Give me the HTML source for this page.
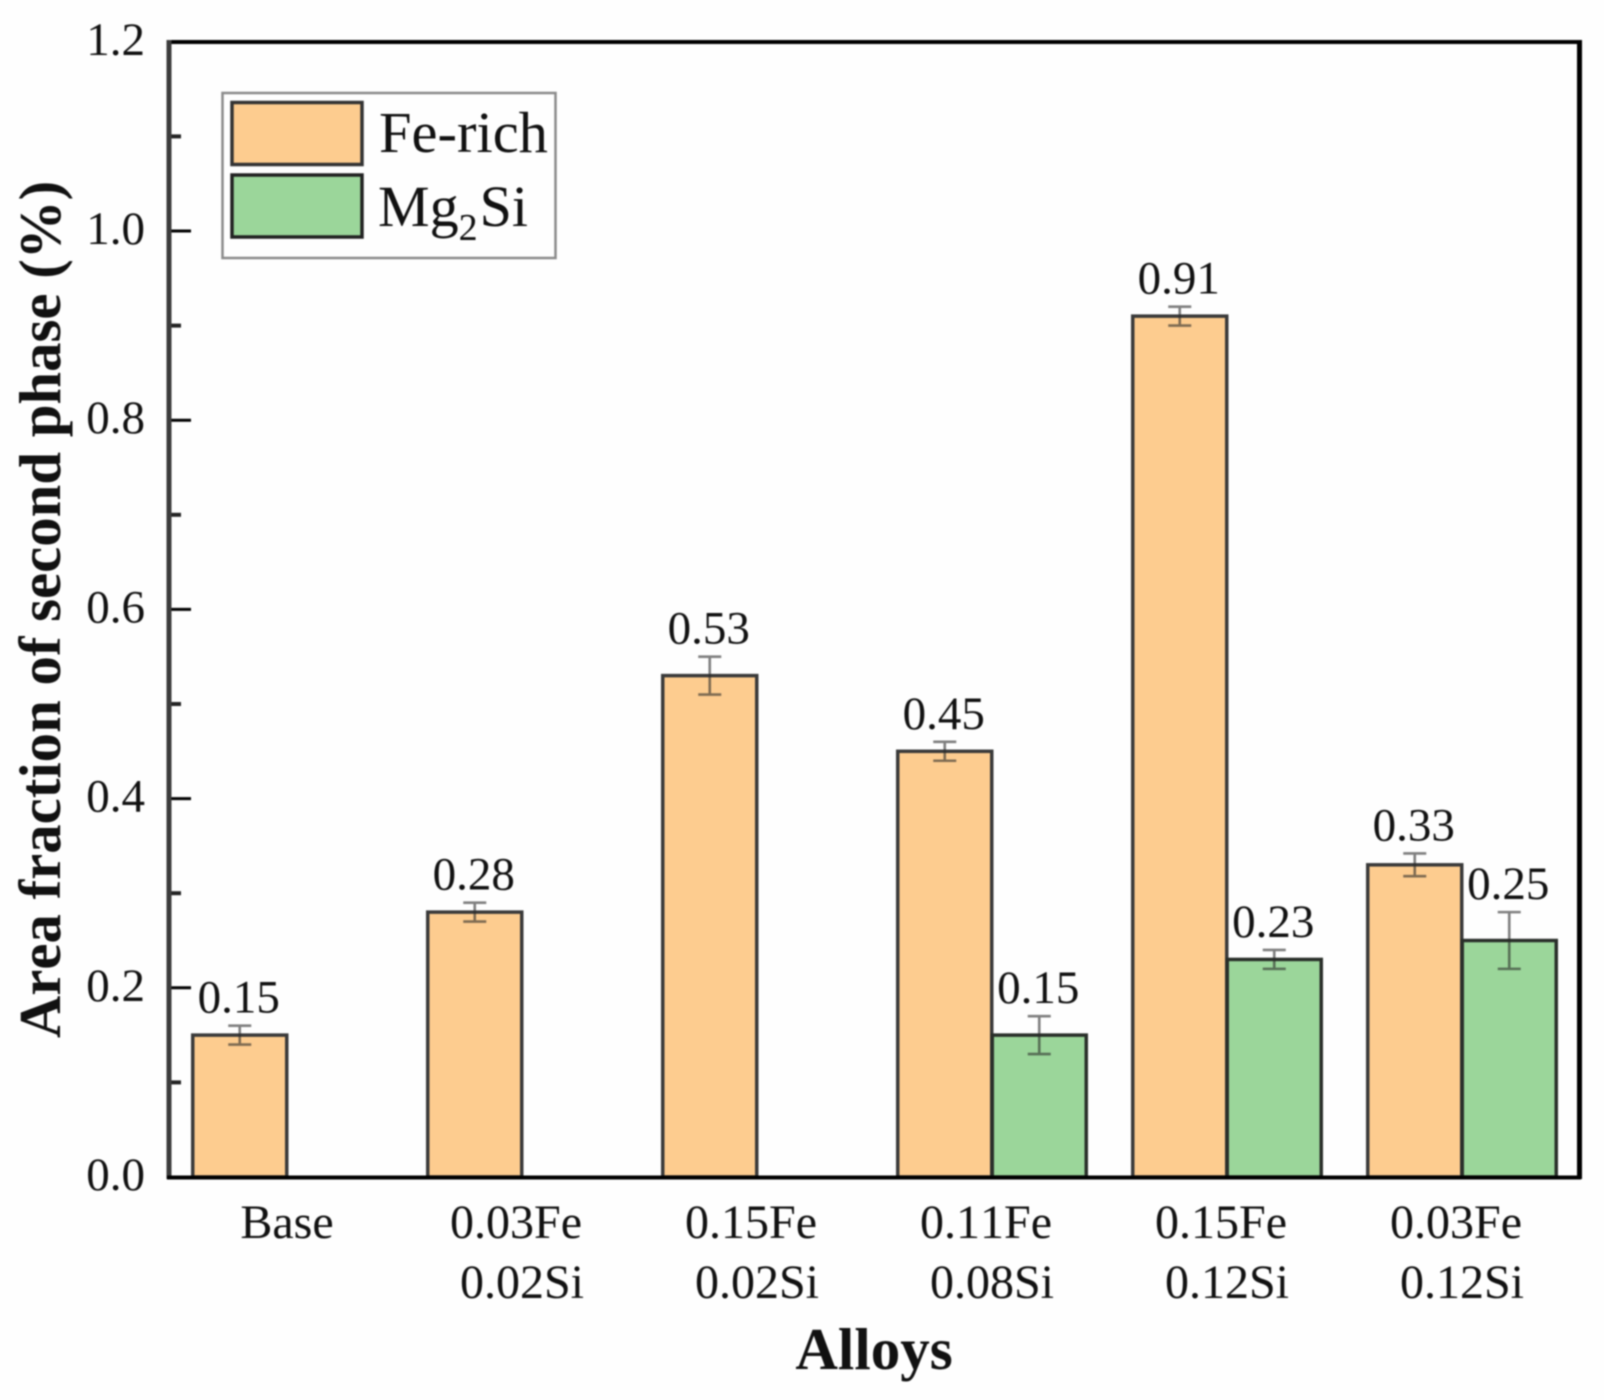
<!DOCTYPE html>
<html lang="en">
<head>
<meta charset="utf-8">
<title>Area fraction of second phase</title>
<style>
  html, body { margin: 0; padding: 0; background: #fefefe; }
  #chart { display: block; width: 1604px; height: 1400px; filter: blur(0.7px); }
  text { font-family: "Liberation Serif", serif; fill: #111; font-kerning: none; }
</style>
</head>
<body>
<svg id="chart" xmlns="http://www.w3.org/2000/svg" width="1604" height="1400" viewBox="0 0 1604 1400">
  <g id="bars"></g>
  <g id="errors"></g>
  <g id="values"></g>
  <g id="ticks"></g>
  <g id="frame">
    <line x1="167" y1="42" x2="1581" y2="42" stroke="#000" stroke-width="4"/>
    <line x1="1579.5" y1="40" x2="1579.5" y2="1179" stroke="#000" stroke-width="5"/>
    <line x1="169" y1="40" x2="169" y2="1179" stroke="#3c3c3c" stroke-width="5"/>
    <line x1="167" y1="1177.5" x2="1581" y2="1177.5" stroke="#000" stroke-width="4"/>
  </g>
  <g id="ylabels"></g>
  <g id="xlabels"></g>
  <text x="0" y="0" transform="translate(60,609.5) rotate(-90)" text-anchor="middle" font-size="58.8" font-weight="bold">Area fraction of second phase (%)</text>
  <text x="874" y="1369" text-anchor="middle" font-size="59" font-weight="bold">Alloys</text>
  <g>
    <rect x="222.5" y="93" width="333" height="165" fill="#fefefe" stroke="#8a8a8a" stroke-width="2.5"/>
    <rect x="232" y="102.5" width="130" height="62" fill="#fdcc8f" stroke="#333" stroke-width="3.5"/>
    <rect x="232" y="175" width="130" height="62" fill="#9bd69a" stroke="#222" stroke-width="3.5"/>
    <text x="379" y="152" font-size="58.5">Fe-rich</text>
    <text x="378" y="226" font-size="58">Mg<tspan font-size="38" dy="14">2</tspan><tspan dy="-14" dx="2">Si</tspan></text>
  </g>
</svg>
<script>
const categoriesLine1 = ["Base", "0.03Fe", "0.15Fe", "0.11Fe", "0.15Fe", "0.03Fe"];
const categoriesLine2 = ["", "0.02Si", "0.02Si", "0.08Si", "0.12Si", "0.12Si"];
const feRichValues = [0.15, 0.28, 0.53, 0.45, 0.91, 0.33];
const feRichErrors = [0.01, 0.01, 0.02, 0.01, 0.01, 0.012];
const mg2SiValues = [null, null, null, 0.15, 0.23, 0.25];
const mg2SiErrors = [null, null, null, 0.02, 0.01, 0.03];
const yMajorTicks = [0, 0.2, 0.4, 0.6, 0.8, 1.0, 1.2];
const yMinorTicks = [0.1, 0.3, 0.5, 0.7, 0.9, 1.1];

const NS = "http://www.w3.org/2000/svg";
const Y_ZERO = 1177, Y_PER_UNIT = 946;
const GROUP_START = 287, GROUP_STEP = 235, BAR_WIDTH = 94.5;
const AXIS_X = 169;

function yScale(v) { return Y_ZERO - v * Y_PER_UNIT; }
function groupCenter(i) { return GROUP_START + GROUP_STEP * i; }

function make(tag, attrs, parent, content) {
  const el = document.createElementNS(NS, tag);
  for (const k in attrs) el.setAttribute(k, attrs[k]);
  if (content !== undefined) el.textContent = content;
  document.getElementById(parent).appendChild(el);
  return el;
}

function drawSeries(values, errors, seriesName, fill, stroke, side) {
  values.forEach(function (v, i) {
    if (v === null) return;
    const left = side < 0 ? groupCenter(i) - BAR_WIDTH : groupCenter(i);
    const cx = left + BAR_WIDTH / 2;
    const top = yScale(v);

    const bar = make("rect", { x: left + 0.25, y: top, width: BAR_WIDTH - 0.5, height: Y_ZERO - top, fill: fill, stroke: stroke, "stroke-width": 3.5 }, "bars");
    
    

    const errTop = yScale(v + errors[i]);
    const errBottom = yScale(v - errors[i]);
    const err = make("path", {
      d: "M" + (cx - 11.5) + " " + errTop + "H" + (cx + 11.5) +
         "M" + cx + " " + errTop + "V" + errBottom +
         "M" + (cx - 11.5) + " " + errBottom + "H" + (cx + 11.5),
      fill: "none", stroke: "#2a2a2a", "stroke-opacity": 0.6, "stroke-width": 2.6
    }, "errors");
    
    

    const label = make("text", { x: cx - 1, y: errTop - 13, "text-anchor": "middle", "font-size": 47 }, "values", v.toFixed(2));
    
    
  });
}

drawSeries(feRichValues, feRichErrors, 'fe-rich', "#fdcc8f", "#3a3a3a", -1);
drawSeries(mg2SiValues, mg2SiErrors, 'mg2si', "#9bd69a", "#2a2f2a", 1);

yMajorTicks.forEach(function (t) {
  const y = yScale(t);
  const tick = make("line", { x1: AXIS_X, x2: AXIS_X + 22, y1: y, y2: y, stroke: "#000", "stroke-width": 3 }, "ticks");
  
  
  const label = make("text", { x: 145, y: y + 13, "text-anchor": "end", "font-size": 47 }, "ylabels", t.toFixed(1));
  
  
});

yMinorTicks.forEach(function (t) {
  const y = yScale(t);
  const tick = make("line", { x1: AXIS_X, x2: AXIS_X + 12, y1: y, y2: y, stroke: "#222", "stroke-width": 4 }, "ticks");
  
  
});

categoriesLine1.forEach(function (name, i) {
  const second = categoriesLine2[i];
  const line1 = make("text", { x: groupCenter(i) - (second ? 6 : 0), y: 1238, "text-anchor": "middle", "font-size": 48 }, "xlabels", name);
  
  
  if (second) {
    const line2 = make("text", { x: groupCenter(i), y: 1298, "text-anchor": "middle", "font-size": 48 }, "xlabels", second);
    
    
  }
});
</script>
</body>
</html>
